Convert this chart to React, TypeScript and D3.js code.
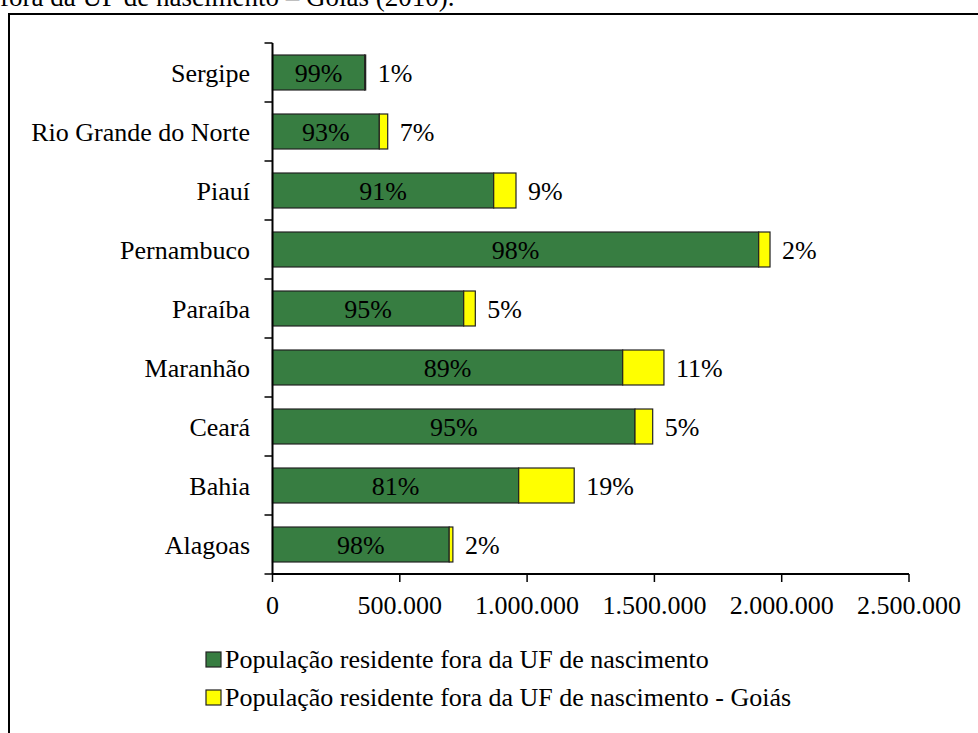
import React from "react";
import * as d3 from "d3";

const categories = ["Alagoas", "Bahia", "Ceará", "Maranhão", "Paraíba", "Pernambuco", "Piauí", "Rio Grande do Norte", "Sergipe"];
const outsideOther = [694000, 967000, 1423800, 1375500, 751000, 1909700, 868800, 419500, 362000];
const outsideGoias = [14500, 218000, 69500, 162000, 45600, 44400, 87600, 33000, 4000];
const otherPctLabels = ["98%", "81%", "95%", "89%", "95%", "98%", "91%", "93%", "99%"];
const goiasPctLabels = ["2%", "19%", "5%", "11%", "5%", "2%", "9%", "7%", "1%"];
const xTicks = [0, 500000, 1000000, 1500000, 2000000, 2500000];
const legendLabels = [
  "População residente fora da UF de nascimento",
  "População residente fora da UF de nascimento - Goiás",
];
const titleTail = "fora da UF de nascimento – Goiás (2010).";

const W = 978;
const H = 733;
const FONT = '"Liberation Serif", "Times New Roman", Times, serif';
const GREEN = "#377D41";
const YELLOW = "#FFFF00";

const ptBR = d3.formatLocale({ decimal: ",", thousands: ".", grouping: [3], currency: ["R$", ""] });
const fmt = ptBR.format(",d");

const T = (props: any) => (
  <text {...props} style={{ fontFamily: FONT, fontSize: props.fontSize ?? 26 }} fill="#000" />
);

export default function App() {
  const x = d3.scaleLinear().domain([0, 2500000]).range([272.5, 909]);
  const y = d3
    .scaleBand<string>()
    .domain([...categories].reverse())
    .range([43, 574])
    .paddingInner(0.407)
    .paddingOuter(0.2035);
  const step = y.step();
  const axisY = 574;
  const x0 = x(0);

  return (
    <svg
      width={W}
      height={H}
      style={{ position: "absolute", left: 0, top: 0, background: "#fff", fontFamily: FONT }}
    >
      <rect x={0} y={0} width={W} height={H} fill="#fff" />
      {/* cut-off title (partially outside the picture, as in the reference) */}
      <T x={0} y={6} fontSize={27}>{titleTail}</T>
      {/* frame */}
      <path d={`M9,${H + 2} V14 H${W + 2}`} fill="none" stroke="#000" strokeWidth={2} />

      {/* bars */}
      {categories.map((c, i) => {
        const yy = y(c)!;
        const bh = y.bandwidth();
        const g0 = x(0);
        const g1 = x(outsideOther[i]);
        const y1 = x(outsideOther[i] + outsideGoias[i]);
        const cy = yy + bh / 2;
        return (
          <g key={c}>
            <rect x={g0} y={yy} width={g1 - g0} height={bh} fill={GREEN} stroke="#222" strokeWidth={1.2} />
            <rect x={g1} y={yy} width={y1 - g1} height={bh} fill={YELLOW} stroke="#222" strokeWidth={1.2} />
            <T x={(g0 + g1) / 2} y={cy} dy="0.35em" textAnchor="middle">
              {otherPctLabels[i]}
            </T>
            <T x={y1 + 12} y={cy} dy="0.35em" textAnchor="start">
              {goiasPctLabels[i]}
            </T>
            <T x={250} y={cy} dy="0.35em" textAnchor="end">
              {c}
            </T>
          </g>
        );
      })}

      {/* y axis */}
      <line x1={x0} x2={x0} y1={43} y2={axisY} stroke="#000" strokeWidth={2} />
      {d3.range(categories.length + 1).map((k) => {
        const ty = 43 + k * step;
        return <line key={k} x1={x0 - 8} x2={x0} y1={ty} y2={ty} stroke="#000" strokeWidth={1.5} />;
      })}

      {/* x axis */}
      <line x1={x0} x2={x(2500000)} y1={axisY} y2={axisY} stroke="#000" strokeWidth={2} />
      {xTicks.map((t) => (
        <g key={t}>
          <line x1={x(t)} x2={x(t)} y1={axisY} y2={axisY + 8} stroke="#000" strokeWidth={1.5} />
          <T x={x(t)} y={axisY + 40} textAnchor="middle">
            {fmt(t)}
          </T>
        </g>
      ))}

      {/* legend */}
      {legendLabels.map((l, i) => {
        const ly = 652 + i * 38;
        return (
          <g key={l}>
            <rect x={206} y={ly} width={15} height={15} fill={i === 0 ? GREEN : YELLOW} stroke="#222" strokeWidth={1.2} />
            <T x={225} y={ly + 16}>{l}</T>
          </g>
        );
      })}
    </svg>
  );
}
